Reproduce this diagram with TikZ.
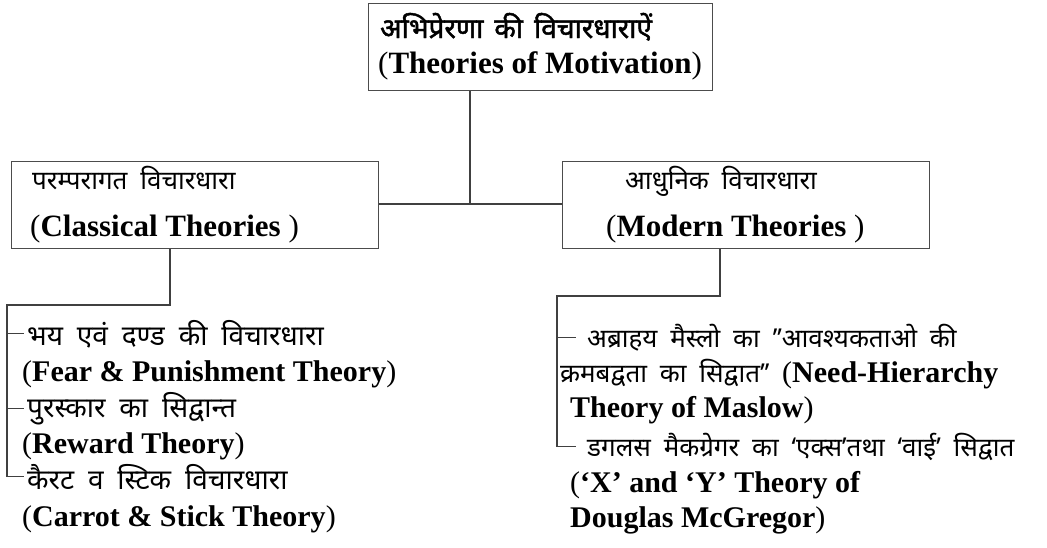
\documentclass[tikz,border=0pt]{standalone}
\usepackage{fontspec}
\setmainfont{Liberation Serif}
\newfontfamily\devfont[Script=Devanagari, WordSpace=1.9]{Noto Sans}
\newfontfamily\devbold[Script=Devanagari, FakeBold=1.6, WordSpace=1.5]{Noto Sans}
\usetikzlibrary{positioning}

\tikzset{
  box/.style={draw=black!70, line width=1.3pt, inner sep=0pt, anchor=north west,
    minimum width=367pt, minimum height=87pt},
  devtxt/.style={font=\devfont\fontsize{26}{30}\selectfont, anchor=base west,
    inner xsep=3pt, inner ysep=0pt},
  itemtxt/.style={devtxt, font=\devfont\fontsize{28}{32}\selectfont},
  entxt/.style={font=\fontsize{30}{36}\selectfont, anchor=base west, inner sep=0pt},
  boxen/.style={font=\fontsize{31}{38}\selectfont, anchor=base west, inner sep=0pt},
  link/.style={draw=black!75, line width=1.3pt},
}

\begin{document}
\begin{tikzpicture}[x=1pt, y=-1pt]
  \useasboundingbox (0,0) rectangle (1047,547);

  % boxes
  \node[box, minimum width=344pt] (top) at (368,3) {};
  \node[box] (classic) at (11,161) {};
  \node[box] (modern) at (562,161) {};

  % box texts
  \node[devtxt, font=\devbold\fontsize{28}{32}\selectfont] (toph) at (377,38) {अभिप्रेरणा की विचारधाराऐं};
  \node[boxen] (tope) at (378,73) {(\textbf{Theories of Motivation})};
  \node[devtxt] (clh) at (29,189) {परम्परागत विचारधारा};
  \node[boxen] (cle) at (30,236) {(\textbf{Classical Theories} )};
  \node[devtxt] (moh) at (622,189) {आधुनिक विचारधारा};
  \node[boxen] (moe) at (606,236) {(\textbf{Modern Theories} )};

  % classical list
  \node[itemtxt] (fearh) at (24,345) {भय एवं दण्ड की विचारधारा};
  \node[entxt] (feare) at (22,381) {(\textbf{Fear \& Punishment Theory})};
  \node[itemtxt] (rewh) at (24,417) {पुरस्कार का सिद्वान्त};
  \node[entxt] (rewe) at (22,453) {(\textbf{Reward Theory})};
  \node[itemtxt] (carh) at (24,489) {कैरट व स्टिक विचारधारा};
  \node[entxt] (care) at (22,526) {(\textbf{Carrot \& Stick Theory})};

  % modern list
  \node[devtxt] (maslh) at (584,347) {अब्राहय मैस्लो का ’’आवश्यकताओ की};
  \node[devtxt] (masle) at (557,382) {क्रमबद्वता का सिद्वात’’ {\rmfamily\fontsize{30}{36}\selectfont(\textbf{Need-Hierarchy}}};
  \node[entxt] (maslt) at (570,417) {\textbf{Theory of Maslow})};
  \node[devtxt] (dougl) at (584,456) {डगलस मैकग्रेगर का ‘एक्स’तथा ‘वाई’ सिद्वात};
  \node[entxt] (dougx) at (570,492) {(\textbf{‘X’ and  ‘Y’ Theory of}};
  \node[entxt] (dougn) at (570,527) {\textbf{Douglas McGregor})};

  % connectors
  \coordinate (tj) at (470,204);
  \draw[link] (top.south -| tj) -- (tj);
  \draw[link] (classic.east |- tj) -- (modern.west |- tj);

  \coordinate (lj) at (170,305);
  \coordinate (lb) at (7,305);
  \draw[link] (classic.south -| lj) -- (lj) -- (lb) -- (lb |- carh.west) -- (carh.west);
  \draw[link] (lb |- fearh.west) -- (fearh.west);
  \draw[link] (lb |- rewh.west) -- (rewh.west);

  \coordinate (rj) at (720,296);
  \coordinate (rb) at (557,296);
  \draw[link] (modern.south -| rj) -- (rj) -- (rb) -- (rb |- dougl.west) -- ([xshift=-8pt]dougl.west);
  \draw[link] (rb |- maslh.west) -- ([xshift=-8pt]maslh.west);
\end{tikzpicture}
\end{document}
